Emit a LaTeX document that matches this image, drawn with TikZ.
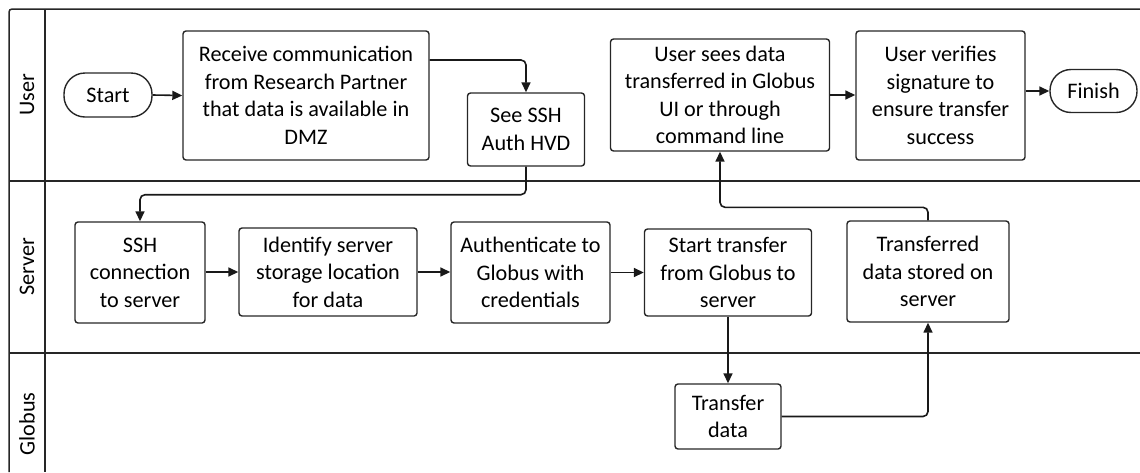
\documentclass[tikz,border=0pt]{standalone}
\usepackage{fontspec}
\setmainfont{Carlito}
\usetikzlibrary{arrows.meta}
\begin{document}
\begin{tikzpicture}[x=1pt,y=-1pt,
  lane/.style={line width=1.5pt,draw=black!85},
  box/.style={draw=black!85,line width=1.4pt,rounded corners=3pt,align=center,
    font=\fontsize{22.2}{27.5}\selectfont,inner sep=0pt},
  term/.style={box,rounded corners=21pt},
  lanelabel/.style={rotate=90,font=\fontsize{22.2}{27.5}\selectfont,inner sep=0pt},
  conn/.style={line width=1.6pt,draw=black!90,rounded corners=5pt,
    -{Triangle[length=10pt,width=9pt]}}]
\useasboundingbox (0,0) rectangle (1140,472);
% swimlane frame
\draw[lane,rounded corners=3pt] (9,472) -- (9,9) -- (1140,9);
\draw[lane] (45,9) -- (45,472);
\draw[lane] (9,181) -- (1140,181);
\draw[lane] (9,353) -- (1140,353);
\node[lanelabel] (lu) at (27,95) {User};
\node[lanelabel] (ls) at (27,267) {Server};
\node[lanelabel] (lg) at (27,424) {Globus};
% user lane
\node[term,minimum width=88pt,minimum height=44pt] (start) at (108,95) {Start};
\node[box,minimum width=246pt,minimum height=129pt] (recv) at (306,95.5)
  {Receive communication\\from Research Partner\\that data is available in\\DMZ};
\node[box,minimum width=117pt,minimum height=73pt] (hvd) at (526,129.5)
  {See SSH\\Auth HVD};
\node[box,minimum width=219pt,minimum height=112pt] (usees) at (720,95)
  {User sees data\\transferred in Globus\\UI or through\\command line};
\node[box,minimum width=169pt,minimum height=129pt] (verify) at (940.5,95.5)
  {User verifies\\signature to\\ensure transfer\\success};
\node[term,minimum width=87pt,minimum height=43pt] (finish) at (1093.5,91) {Finish};
% server lane
\node[box,minimum width=130pt,minimum height=101pt] (sshc) at (140,272.5)
  {SSH\\connection\\to server};
\node[box,minimum width=178pt,minimum height=88pt] (ident) at (328,272)
  {Identify server\\storage location\\for data};
\node[box,minimum width=159pt,minimum height=101pt] (auth) at (530.5,272.5)
  {Authenticate to\\Globus with\\credentials};
\node[box,minimum width=167pt,minimum height=87pt] (xfer) at (728,272.5)
  {Start transfer\\from Globus to\\server};
\node[box,minimum width=162pt,minimum height=101pt] (stored) at (928,271.5)
  {Transferred\\data stored on\\server};
% globus lane
\node[box,minimum width=106pt,minimum height=65pt] (tdata) at (728,416.5)
  {Transfer\\data};
% connectors
\coordinate (y60) at (0,60);
\draw[conn] (start.east) -- (recv.west);
\draw[conn] (recv.east |- y60) -| (hvd.north);
\draw[conn] (hvd.south) -- ++(0,28) -| (sshc.north);
\draw[conn] (sshc.east |- ident.west) -- (ident.west);
\draw[conn] (ident.east) -- (auth.west |- ident.east);
\draw[conn] (auth.east |- xfer.west) -- (xfer.west);
\draw[conn] (xfer.south) -- (tdata.north);
\draw[conn] (tdata.east) -| (stored.south);
\draw[conn] (stored.north) -- ++(0,-13) -| (usees.south);
\draw[conn] (usees.east) -- (verify.west |- usees.east);
\draw[conn] (verify.east |- finish.west) -- (finish.west);
\end{tikzpicture}
\end{document}
